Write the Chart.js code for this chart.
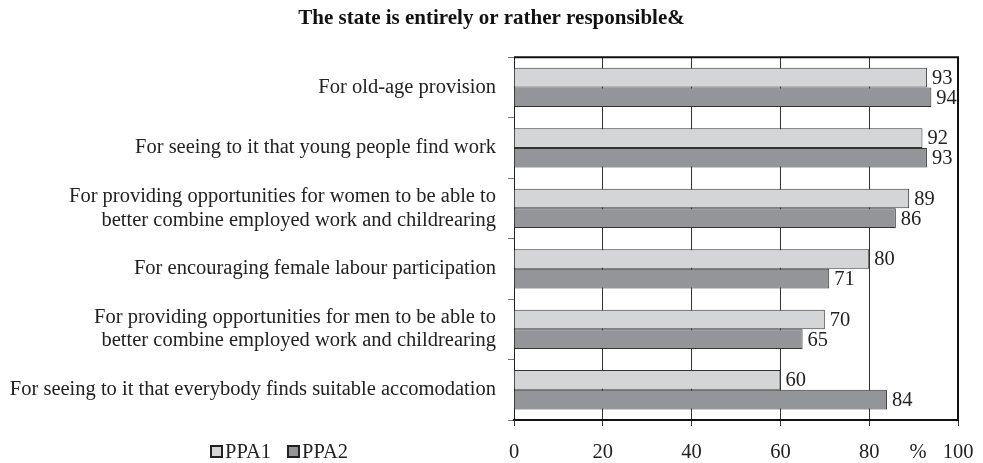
<!DOCTYPE html>
<html>
<head>
<meta charset="utf-8">
<script src="https://cdn.jsdelivr.net/npm/chart.js@4/dist/chart.umd.min.js"></script>
<style>
  html, body { margin: 0; padding: 0; background: #fff; }
  #wrap { position: relative; width: 983px; height: 463px; }
</style>
</head>
<body>
<div id="wrap"><canvas id="c" width="983" height="463"></canvas></div>
<script>
const titleText = 'The state is entirely or rather responsible&';
const categories = [
  'For old-age provision',
  'For seeing to it that young people find work',
  ['For providing opportunities for women to be able to', 'better combine employed work and childrearing'],
  'For encouraging female labour participation',
  ['For providing opportunities for men to be able to', 'better combine employed work and childrearing'],
  'For seeing to it that everybody finds suitable accomodation'
];
const seriesNames = ['PPA1', 'PPA2'];
const ppa1 = [93, 92, 89, 80, 70, 60];
const ppa2 = [94, 93, 86, 71, 65, 84];
const xTickValues = [0, 20, 40, 60, 80, 100];
const unitLabel = '%';
const unitTickValue = 91;

const FONT = '"Liberation Serif", "Times New Roman", serif';

const valueLabels = {
  id: 'valueLabels',
  afterDatasetsDraw(chart) {
    const ctx = chart.ctx;
    ctx.save();
    ctx.font = '20.5px ' + FONT;
    ctx.fillStyle = '#222';
    ctx.textAlign = 'left';
    ctx.textBaseline = 'middle';
    chart.data.datasets.forEach((ds, i) => {
      const meta = chart.getDatasetMeta(i);
      meta.data.forEach((el, j) => {
        ctx.fillText(String(ds.data[j]), el.x + 5, el.y + 1);
      });
    });
    ctx.restore();
  }
};

const frame = {
  id: 'frame',
  afterDraw(chart) {
    const a = chart.chartArea, ctx = chart.ctx;
    ctx.save();
    ctx.strokeStyle = '#111';
    ctx.lineWidth = 2;
    ctx.beginPath();
    ctx.moveTo(a.left, a.top); ctx.lineTo(a.right, a.top); ctx.lineTo(a.right, a.bottom);
    ctx.stroke();
    ctx.restore();
  }
};

const customLegend = {
  id: 'customLegend',
  afterDraw(chart) {
    const ctx = chart.ctx;
    const y = 452;
    let x = 211;
    ctx.save();
    ctx.font = '20.5px ' + FONT;
    ctx.textBaseline = 'middle';
    ctx.textAlign = 'left';
    chart.data.datasets.forEach((ds) => {
      ctx.fillStyle = ds.backgroundColor;
      ctx.fillRect(x, y - 6, 11, 11);
      ctx.strokeStyle = '#222';
      ctx.lineWidth = 2;
      ctx.strokeRect(x, y - 6, 11, 11);
      ctx.fillStyle = '#222';
      ctx.fillText(ds.label, x + 14, y + 1);
      x += 14 + ctx.measureText(ds.label).width + 17;
    });
    ctx.restore();
  }
};

new Chart(document.getElementById('c'), {
  type: 'bar',
  data: {
    labels: categories,
    datasets: [
      { label: seriesNames[0], data: ppa1, backgroundColor: '#d4d5d7', borderColor: '#333', borderWidth: 1, categoryPercentage: 0.65, barPercentage: 1 },
      { label: seriesNames[1], data: ppa2, backgroundColor: '#939598', borderColor: '#333', borderWidth: 1, categoryPercentage: 0.65, barPercentage: 1 }
    ]
  },
  options: {
    indexAxis: 'y',
    responsive: false,
    animation: false,
    layout: { padding: { left: 0, right: 0, top: 0, bottom: 0 } },
    plugins: {
      legend: { display: false },
      tooltip: { enabled: false },
      title: {
        display: true, text: titleText, color: '#111',
        font: { family: FONT, size: 21, weight: 'bold', lineHeight: 1.2 },
        padding: { top: 6, bottom: 26 }
      }
    },
    scales: {
      x: {
        min: 0, max: 100,
        afterBuildTicks(axis) {
          const vals = xTickValues.concat([unitTickValue]).sort((a, b) => a - b);
          axis.ticks = vals.map(v => ({ value: v }));
        },
        afterFit(axis) { axis.height = 43; axis.paddingRight = 25; axis.paddingLeft = 0; },
        ticks: {
          autoSkip: false, maxRotation: 0, color: '#222', padding: 14,
          font: { family: FONT, size: 20.5 },
          callback: (v) => (v === unitTickValue ? unitLabel : String(v))
        },
        grid: {
          color: (c) => (c.tick && c.tick.value === unitTickValue ? 'rgba(0,0,0,0)' : '#333'),
          lineWidth: 1, tickLength: 6
        },
        border: { color: '#111', width: 2 }
      },
      y: {
        afterFit(axis) { axis.width = 514; },
        ticks: { color: '#222', padding: 12, font: { family: FONT, size: 20.5, lineHeight: 1.15 } },
        grid: { drawOnChartArea: false, drawTicks: true, tickLength: 6, color: '#777', offset: true },
        border: { color: '#222', width: 1 }
      }
    }
  },
  plugins: [valueLabels, frame, customLegend]
});
</script>
</body>
</html>
